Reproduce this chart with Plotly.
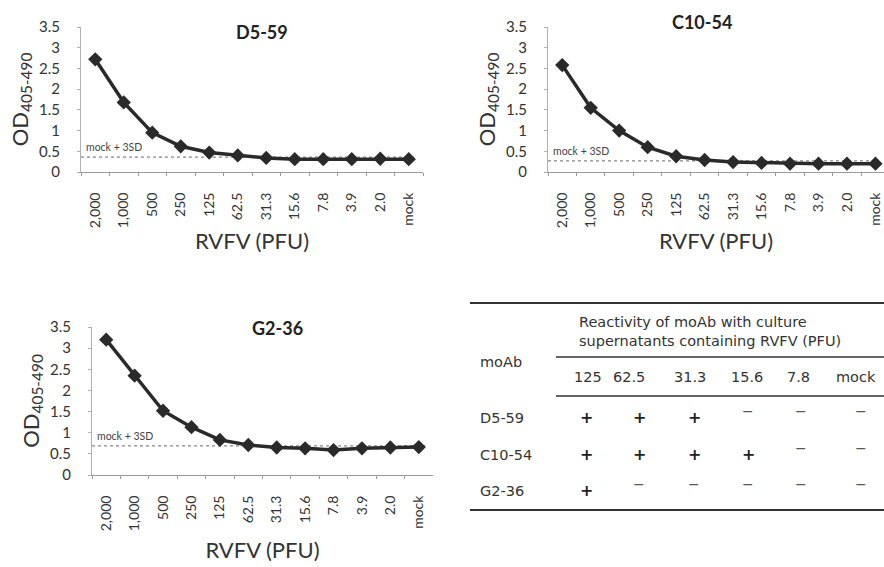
import plotly.graph_objects as go

categories = ["2,000", "1,000", "500", "250", "125", "62.5", "31.3", "15.6", "7.8", "3.9", "2.0", "mock"]
d5_59 = [2.72, 1.68, 0.95, 0.62, 0.47, 0.40, 0.34, 0.31, 0.31, 0.31, 0.32, 0.31]
c10_54 = [2.58, 1.55, 1.00, 0.60, 0.38, 0.29, 0.24, 0.22, 0.20, 0.20, 0.20, 0.20]
g2_36 = [3.20, 2.35, 1.52, 1.13, 0.83, 0.71, 0.65, 0.63, 0.59, 0.63, 0.65, 0.66]
thresholds = {"D5-59": 0.36, "C10-54": 0.27, "G2-36": 0.69}

table_cols = ["125", "62.5", "31.3", "15.6", "7.8", "mock"]
table_rows = ["D5-59", "C10-54", "G2-36"]
table_vals = [
    ["+", "+", "+", "−", "−", "−"],
    ["+", "+", "+", "+", "−", "−"],
    ["+", "−", "−", "−", "−", "−"],
]

W, H = 884, 567
FONT = "Lato"
TFONT = "DejaVu Sans"
INK = "#2a2a2a"

def px(x):
    return x / W

def py(y):
    return 1 - y / H

panels = [
    # name, values, x-domain px, y-domain px (bottom, top), x-range, title pos, xtitle standoff
    ("D5-59", d5_59, (81, 423), (172, 27), [-0.5, 11.5], (262, 32), 6),
    ("C10-54", c10_54, (548, 884), (172, 27), [-0.5, 11.3], (702, 22), 6),
    ("G2-36", g2_36, (92, 433), (475, 327), [-0.5, 11.5], (277, 328), 12),
]

fig = go.Figure()
annotations = []
shapes = []

def ann(x, y, text, font, xanchor="center", yanchor="middle", **kw):
    d = dict(xref="paper", yref="paper", x=px(x), y=py(y), text=text, showarrow=False,
             xanchor=xanchor, yanchor=yanchor, font=font)
    d.update(kw)
    annotations.append(d)

for i, (name, vals, xd, yd, xr, tpos, xstand) in enumerate(panels):
    ax = "" if i == 0 else str(i + 1)
    fig.add_trace(go.Scatter(
        x=categories, y=vals,
        mode="lines+markers",
        line=dict(color=INK, width=3.5),
        marker=dict(symbol="diamond", size=11, color=INK),
        xaxis="x" + ax, yaxis="y" + ax, showlegend=False, hoverinfo="skip",
    ))
    fig.layout["xaxis" + ax] = dict(
        type="category", categoryorder="array", categoryarray=categories,
        domain=[px(xd[0]), px(xd[1])], range=xr, anchor="y" + ax, automargin=False,
        tickangle=-90, showgrid=False, zeroline=False, tickson="boundaries",
        showline=True, linecolor="#9a9a9a", linewidth=1,
        ticks="outside", ticklen=3, tickcolor="#9a9a9a", ticklabelstandoff=14,
        tickfont=dict(family=FONT, size=14, color="#333"),
        title=dict(text="RVFV (PFU)", font=dict(family=FONT, size=22, color="#333"), standoff=xstand),
    )
    fig.layout["yaxis" + ax] = dict(
        domain=[py(yd[0]), py(yd[1])], range=[0, 3.5], anchor="x" + ax, automargin=False,
        tickvals=[0, 0.5, 1, 1.5, 2, 2.5, 3, 3.5],
        ticktext=["0", "0.5", "1", "1.5", "2", "2.5", "3", "3.5"],
        showgrid=False, zeroline=False,
        showline=True, linecolor="#b0b0b0", linewidth=1,
        ticks="outside", ticklen=3, tickcolor="#b0b0b0", ticklabelstandoff=14,
        tickfont=dict(family=FONT, size=15, color="#333"),
        title=dict(text="OD<sub>405-490</sub>", font=dict(family=FONT, size=22, color="#333"), standoff=4),
    )
    thr = thresholds[name]
    shapes.append(dict(type="line", xref="x" + ax + " domain", yref="y" + ax,
                       x0=0, x1=0.98, y0=thr, y1=thr,
                       line=dict(color="#888", width=1.2, dash="dot"), layer="below"))
    annotations.append(dict(xref="x" + ax + " domain", yref="y" + ax, x=0.01, y=thr,
                            text="mock + 3SD", showarrow=False, xanchor="left", yanchor="bottom",
                            yshift=2, font=dict(family=FONT, size=10.5, color="#444")))
    ann(tpos[0], tpos[1], "<b>" + name + "</b>", dict(family=FONT, size=18, color="#222"))

# Table
tfont = dict(family=TFONT, size=14.5, color="#333")
for y0, x0, w in [(303, 470, 2), (357, 556, 1.5), (396, 556, 1.5), (510, 470, 2)]:
    shapes.append(dict(type="line", xref="paper", yref="paper", x0=px(x0), x1=px(884),
                       y0=py(y0), y1=py(y0), line=dict(color="#333", width=w)))

ann(577, 322, "Reactivity of moAb with culture", tfont, xanchor="left")
ann(577, 341, "supernatants containing RVFV (PFU)", tfont, xanchor="left")
ann(478, 362, "moAb", tfont, xanchor="left")

head_x = [588, 629, 690, 747, 798, 856]
sym_x = [586, 639, 694, 748, 801, 861]
row_y = [418, 455, 491]
for cx, c in zip(head_x, table_cols):
    ann(cx, 377, c, tfont)
for ry, r, vals in zip(row_y, table_rows, table_vals):
    ann(478, ry, r, tfont, xanchor="left")
    for cx, v in zip(sym_x, vals):
        if v == "+":
            ann(cx, ry - 1, "<b>+</b>", dict(family=TFONT, size=16, color="#222"))
        else:
            ann(cx, ry - 7, "−", dict(family=TFONT, size=14, color="#555"))

fig.update_layout(
    width=W, height=H, margin=dict(l=0, r=0, t=0, b=0),
    paper_bgcolor="white", plot_bgcolor="white",
    shapes=shapes, annotations=annotations,
)

fig.write_html("out.html", config={"displayModeBar": False},
               post_script="document.body.style.margin='0';")
